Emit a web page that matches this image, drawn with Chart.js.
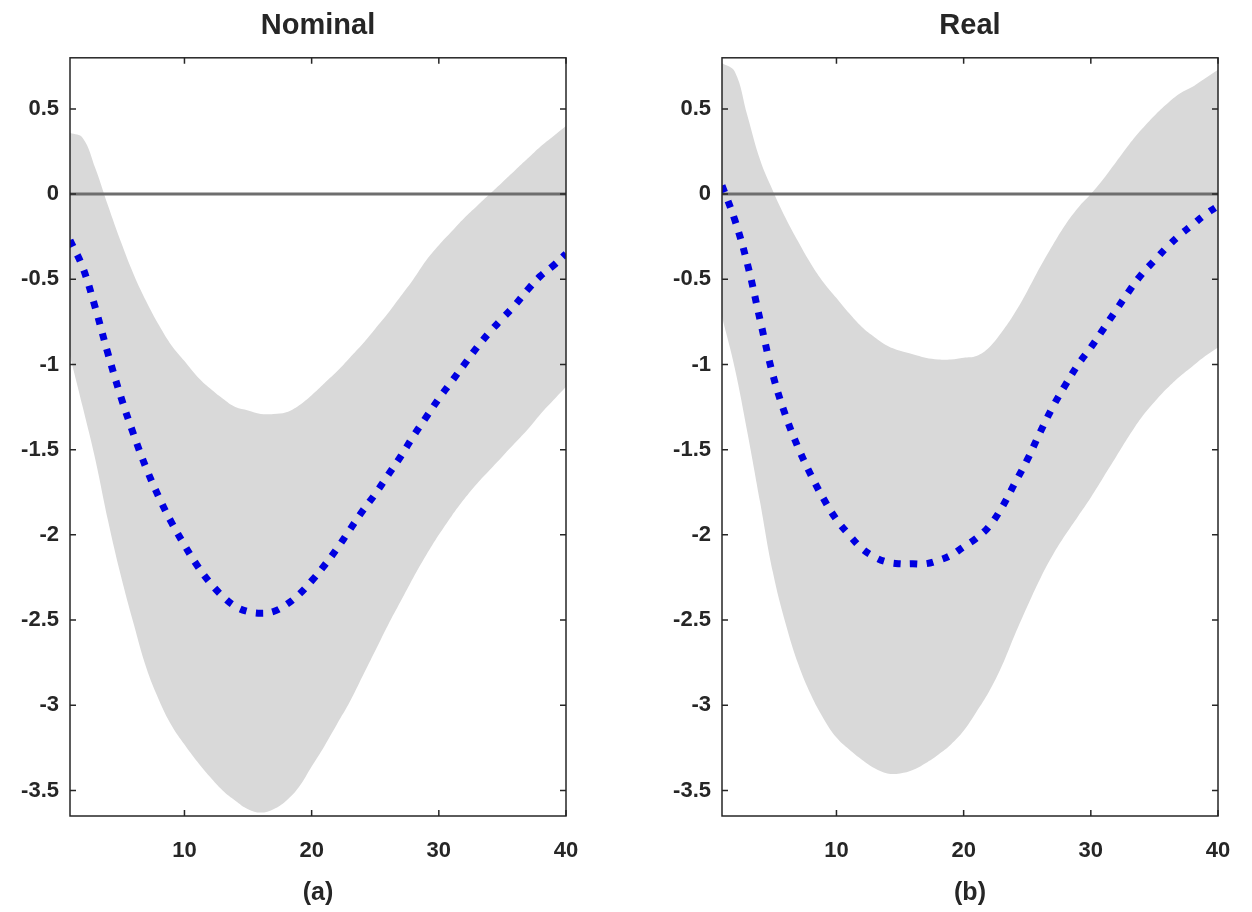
<!DOCTYPE html>
<html>
<head>
<meta charset="utf-8">
<script src="https://cdn.jsdelivr.net/npm/chart.js@4"></script>
<style>
  body { margin: 0; background: #fff; }
  .panel { position: absolute; top: 0; width: 600px; height: 912px; }
  #left { left: 0; }
  #right { left: 652px; }
</style>
</head>
<body>
<div class="panel" id="left"><canvas id="nominalChart"></canvas></div>
<div class="panel" id="right"><canvas id="realChart"></canvas></div>
<script>
// Horizons and impulse responses
const horizons = [1, 2, 3, 4, 5, 6, 7, 8, 9, 10, 11, 12, 13, 14, 15, 16, 17, 18, 19, 20,
  21, 22, 23, 24, 25, 26, 27, 28, 29, 30, 31, 32, 33, 34, 35, 36, 37, 38, 39, 40];

const nominalMean = [-0.27, -0.43, -0.67, -0.94, -1.19, -1.41, -1.61, -1.78, -1.93, -2.06,
  -2.18, -2.28, -2.36, -2.42, -2.45, -2.46, -2.45, -2.41, -2.35, -2.27,
  -2.18, -2.08, -1.97, -1.86, -1.76, -1.65, -1.54, -1.42, -1.31, -1.20,
  -1.10, -1.00, -0.90, -0.81, -0.73, -0.65, -0.56, -0.48, -0.42, -0.35];
const nominalUpper = [0.36, 0.33, 0.15, -0.07, -0.28, -0.47, -0.63, -0.77, -0.89, -0.98,
  -1.07, -1.14, -1.20, -1.25, -1.27, -1.29, -1.29, -1.28, -1.24, -1.18,
  -1.11, -1.04, -0.96, -0.88, -0.79, -0.70, -0.60, -0.50, -0.39, -0.30,
  -0.22, -0.14, -0.07, 0.00, 0.07, 0.14, 0.21, 0.28, 0.34, 0.40];
const nominalLower = [-0.95, -1.25, -1.56, -1.92, -2.24, -2.52, -2.78, -2.97, -3.12, -3.23,
  -3.33, -3.42, -3.50, -3.56, -3.61, -3.63, -3.61, -3.56, -3.48, -3.36,
  -3.24, -3.11, -2.98, -2.83, -2.68, -2.53, -2.39, -2.25, -2.12, -2.00,
  -1.89, -1.79, -1.70, -1.62, -1.54, -1.46, -1.38, -1.29, -1.21, -1.13];

const realMean = [0.05, -0.15, -0.41, -0.74, -1.06, -1.30, -1.49, -1.65, -1.79, -1.91,
  -2.00, -2.08, -2.13, -2.16, -2.17, -2.17, -2.17, -2.15, -2.12, -2.07,
  -2.02, -1.95, -1.84, -1.70, -1.56, -1.40, -1.25, -1.12, -1.00, -0.90,
  -0.79, -0.68, -0.57, -0.47, -0.39, -0.31, -0.24, -0.18, -0.12, -0.07];
const realUpper = [0.77, 0.72, 0.46, 0.20, 0.02, -0.14, -0.28, -0.41, -0.52, -0.61,
  -0.70, -0.78, -0.84, -0.89, -0.92, -0.94, -0.96, -0.97, -0.97, -0.96,
  -0.95, -0.90, -0.81, -0.70, -0.57, -0.43, -0.30, -0.18, -0.08, 0.00,
  0.09, 0.19, 0.29, 0.38, 0.46, 0.53, 0.59, 0.63, 0.68, 0.73];
const realLower = [-0.72, -1.02, -1.40, -1.81, -2.22, -2.52, -2.76, -2.94, -3.08, -3.19,
  -3.26, -3.32, -3.37, -3.40, -3.40, -3.38, -3.34, -3.29, -3.23, -3.15,
  -3.04, -2.92, -2.77, -2.59, -2.42, -2.26, -2.12, -2.00, -1.89, -1.78,
  -1.66, -1.54, -1.42, -1.31, -1.22, -1.14, -1.07, -1.01, -0.95, -0.90];

const xTicks = [10, 20, 30, 40];
const yTicks = [0.5, 0, -0.5, -1, -1.5, -2, -2.5, -3, -3.5];
const yMin = -3.65;
const yMax = 0.8;

const font = 'Liberation Sans, Arial, sans-serif';
const textColor = '#262626';

const toPoints = arr => arr.map((v, i) => ({ x: horizons[i], y: v }));

// Box around the plot, inward ticks, zero line under the mean
const framePlugin = {
  id: 'frame',
  beforeDatasetDraw(chart, args) {
    if (chart.data.datasets[args.index].label !== 'mean') return;
    const { ctx, chartArea: a, scales: { y } } = chart;
    const py = y.getPixelForValue(0);
    ctx.save();
    ctx.strokeStyle = '#6e6e6e';
    ctx.lineWidth = 3;
    ctx.beginPath();
    ctx.moveTo(a.left, py);
    ctx.lineTo(a.right, py);
    ctx.stroke();
    ctx.restore();
  },
  afterDraw(chart) {
    const { ctx, chartArea: a, scales: { x, y } } = chart;
    ctx.save();
    ctx.strokeStyle = textColor;
    ctx.lineWidth = 1.5;
    ctx.strokeRect(a.left, a.top, a.right - a.left, a.bottom - a.top);
    ctx.beginPath();
    xTicks.forEach(v => {
      const px = x.getPixelForValue(v);
      ctx.moveTo(px, a.bottom); ctx.lineTo(px, a.bottom - 6);
      ctx.moveTo(px, a.top); ctx.lineTo(px, a.top + 6);
    });
    yTicks.forEach(v => {
      const py = y.getPixelForValue(v);
      ctx.moveTo(a.left, py); ctx.lineTo(a.left + 6, py);
      ctx.moveTo(a.right, py); ctx.lineTo(a.right - 6, py);
    });
    ctx.stroke();
    ctx.restore();
  }
};

function makeChart(id, title, subLabel, mean, upper, lower) {
  new Chart(document.getElementById(id), {
    type: 'line',
    data: {
      datasets: [
        {
          label: 'mean',
          data: toPoints(mean),
          borderColor: '#0000e0',
          borderWidth: 7,
          borderDash: [7, 9.5],
          pointRadius: 0,
          fill: false,
          tension: 0.4,
          order: 0
        },
        {
          label: 'upper',
          data: toPoints(upper),
          borderWidth: 0,
          pointRadius: 0,
          fill: false,
          tension: 0.4,
          order: 2
        },
        {
          label: 'lower',
          data: toPoints(lower),
          borderWidth: 0,
          pointRadius: 0,
          backgroundColor: '#d9d9d9',
          fill: '-1',
          tension: 0.4,
          order: 2
        }
      ]
    },
    options: {
      responsive: true,
      maintainAspectRatio: false,
      animation: false,
      events: [],
      layout: { padding: { left: 0, right: 34, top: 0, bottom: 0 } },
      plugins: {
        legend: { display: false },
        tooltip: { enabled: false },
        title: {
          display: true,
          text: title,
          fullSize: false,
          color: textColor,
          font: { family: font, size: 29, weight: 'bold' },
          padding: { top: 9, bottom: 14 }
        }
      },
      scales: {
        x: {
          type: 'linear',
          min: 1,
          max: 40,
          grid: { display: false },
          border: { display: false },
          afterBuildTicks: s => { s.ticks = xTicks.map(v => ({ value: v })); },
          afterFit: s => { s.height = 96; },
          ticks: {
            color: textColor,
            padding: 14,
            maxRotation: 0,
            font: { family: font, size: 22, weight: 'bold' },
            callback: v => String(v)
          },
          title: {
            display: true,
            text: subLabel,
            color: textColor,
            font: { family: font, size: 25, weight: 'bold' },
            padding: { top: 0, bottom: 4 }
          }
        },
        y: {
          min: yMin,
          max: yMax,
          grid: { display: false },
          border: { display: false },
          afterBuildTicks: s => { s.ticks = yTicks.map(v => ({ value: v })); },
          afterFit: s => { s.width = 70; },
          ticks: {
            color: textColor,
            padding: 3,
            font: { family: font, size: 22, weight: 'bold' },
            callback: v => String(v)
          }
        }
      }
    },
    plugins: [framePlugin]
  });
}

makeChart('nominalChart', 'Nominal', '(a)', nominalMean, nominalUpper, nominalLower);
makeChart('realChart', 'Real', '(b)', realMean, realUpper, realLower);
</script>
</body>
</html>
